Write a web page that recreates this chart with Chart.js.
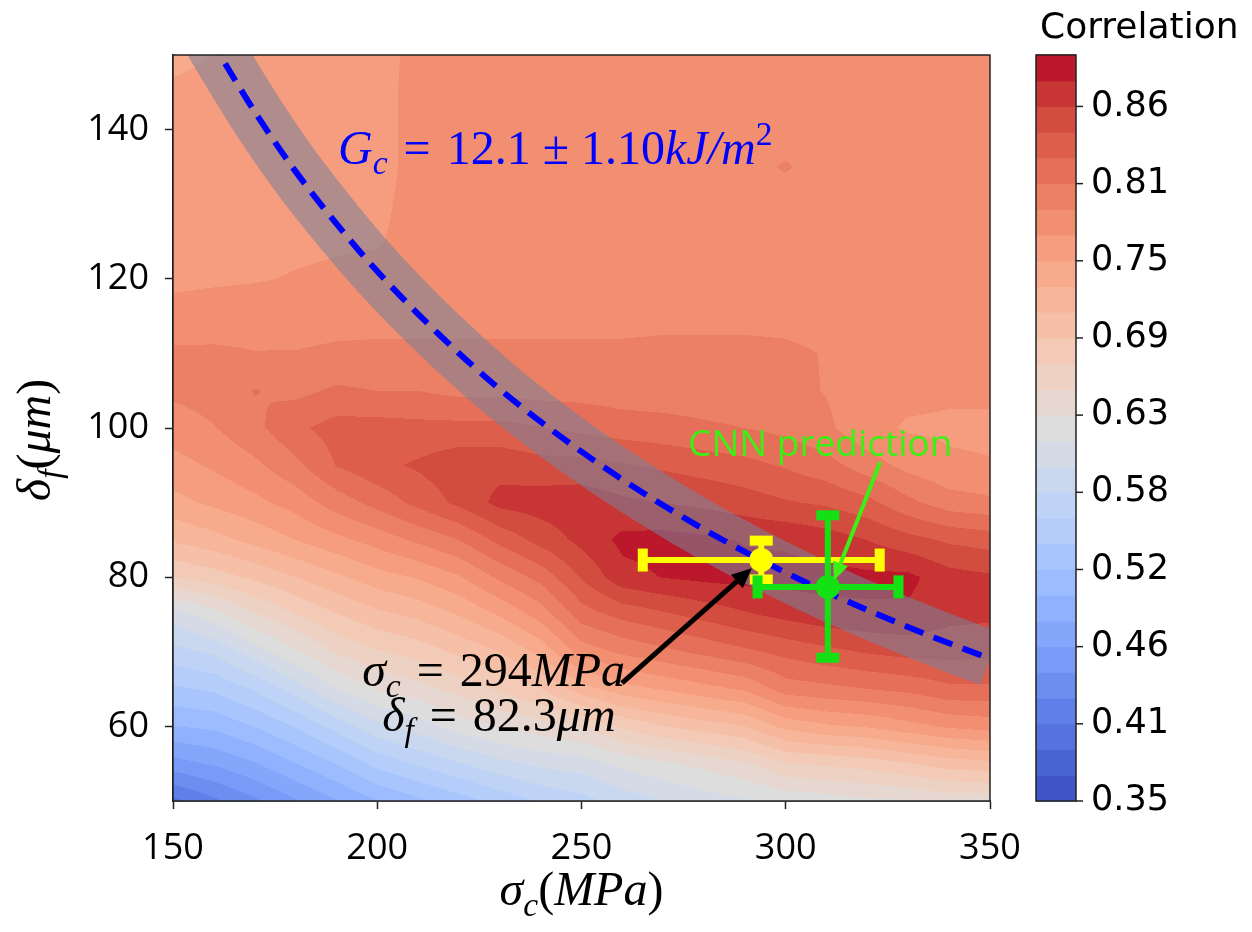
<!DOCTYPE html>
<html>
<head>
<meta charset="utf-8">
<script src="https://cdn.jsdelivr.net/npm/chart.js@4.4.1/dist/chart.umd.min.js"></script>
<style>
  html, body { margin: 0; padding: 0; background: #fff; }
  canvas { display: block; }
</style>
</head>
<body>
<canvas id="corrChart" width="1252" height="932"></canvas>
<script>
// grid of the correlation map
const sigmaGrid = [150,160,170,180,190,200,210,220,230,240,250,260,270,280,290,300,310,320,330,340,350];
const deltaGrid = [50,55,60,65,70,75,80,85,90,95,100,105,110,115,120,125,130,135,140,145,150];
// one column per sigma, values for delta 50 -> 150
const corrBySigma = [
  [0.400,0.455,0.500,0.535,0.570,0.605,0.672,0.712,0.742,0.760,0.776,0.790,0.790,0.772,0.764,0.762,0.762,0.760,0.758,0.752,0.742],
  [0.420,0.465,0.505,0.542,0.580,0.625,0.682,0.722,0.752,0.770,0.785,0.795,0.790,0.774,0.765,0.762,0.762,0.762,0.760,0.756,0.748],
  [0.440,0.480,0.520,0.560,0.605,0.650,0.695,0.735,0.762,0.782,0.800,0.806,0.787,0.775,0.766,0.762,0.762,0.762,0.762,0.760,0.755],
  [0.460,0.500,0.540,0.585,0.630,0.672,0.710,0.748,0.775,0.800,0.820,0.800,0.787,0.776,0.768,0.764,0.762,0.762,0.762,0.762,0.760],
  [0.480,0.520,0.565,0.615,0.655,0.690,0.725,0.762,0.795,0.825,0.832,0.808,0.790,0.778,0.770,0.765,0.762,0.762,0.762,0.762,0.762],
  [0.500,0.545,0.590,0.635,0.670,0.705,0.740,0.775,0.812,0.838,0.832,0.805,0.790,0.780,0.772,0.766,0.764,0.762,0.762,0.762,0.762],
  [0.515,0.560,0.605,0.645,0.680,0.715,0.750,0.790,0.830,0.846,0.830,0.805,0.790,0.780,0.775,0.772,0.772,0.772,0.772,0.772,0.771],
  [0.530,0.575,0.624,0.660,0.695,0.730,0.765,0.805,0.848,0.856,0.830,0.800,0.790,0.780,0.776,0.775,0.774,0.774,0.774,0.774,0.774],
  [0.545,0.590,0.635,0.675,0.710,0.750,0.790,0.830,0.868,0.856,0.830,0.800,0.790,0.780,0.777,0.776,0.776,0.775,0.775,0.775,0.775],
  [0.560,0.600,0.645,0.690,0.735,0.775,0.812,0.850,0.872,0.850,0.825,0.798,0.790,0.780,0.777,0.776,0.776,0.776,0.776,0.776,0.776],
  [0.570,0.605,0.655,0.720,0.775,0.815,0.845,0.868,0.874,0.850,0.820,0.798,0.790,0.780,0.777,0.776,0.776,0.776,0.776,0.776,0.776],
  [0.585,0.620,0.675,0.740,0.790,0.830,0.875,0.886,0.866,0.845,0.815,0.795,0.790,0.780,0.777,0.776,0.776,0.776,0.776,0.776,0.776],
  [0.595,0.630,0.690,0.750,0.800,0.840,0.882,0.888,0.862,0.840,0.812,0.795,0.792,0.780,0.777,0.776,0.776,0.776,0.776,0.776,0.776],
  [0.605,0.640,0.700,0.760,0.810,0.850,0.886,0.885,0.858,0.835,0.808,0.795,0.792,0.780,0.777,0.776,0.776,0.776,0.776,0.776,0.776],
  [0.612,0.650,0.710,0.770,0.820,0.860,0.888,0.880,0.852,0.830,0.805,0.795,0.792,0.780,0.777,0.776,0.776,0.780,0.776,0.776,0.776],
  [0.620,0.670,0.735,0.795,0.830,0.868,0.888,0.878,0.845,0.822,0.800,0.792,0.790,0.780,0.777,0.776,0.776,0.788,0.776,0.776,0.776],
  [0.625,0.675,0.745,0.800,0.838,0.875,0.888,0.872,0.840,0.812,0.790,0.785,0.785,0.778,0.776,0.776,0.776,0.776,0.776,0.776,0.776],
  [0.630,0.680,0.750,0.805,0.845,0.878,0.886,0.862,0.830,0.795,0.772,0.775,0.780,0.777,0.776,0.776,0.776,0.776,0.776,0.776,0.776],
  [0.632,0.690,0.760,0.810,0.850,0.878,0.886,0.850,0.810,0.780,0.765,0.772,0.778,0.777,0.776,0.776,0.776,0.776,0.776,0.776,0.776],
  [0.640,0.700,0.770,0.820,0.850,0.868,0.870,0.840,0.795,0.770,0.764,0.770,0.775,0.776,0.776,0.776,0.776,0.776,0.776,0.776,0.776],
  [0.640,0.705,0.775,0.820,0.848,0.866,0.865,0.835,0.790,0.768,0.764,0.770,0.775,0.776,0.776,0.776,0.776,0.776,0.776,0.776,0.776]
];

// contour levels and colorbar
const levelMin = 0.3484;
const levelStep = 0.01903;
const levelCount = 29;
const cbarTickLevels = [0, 3, 6, 9, 12, 15, 18, 21, 24, 27];
const cbarTickLabels = ['0.35','0.41','0.46','0.52','0.58','0.63','0.69','0.75','0.81','0.86'];

const xTicks = [150, 200, 250, 300, 350];
const yTicks = [60, 80, 100, 120, 140];

// G_c curve as drawn (sigma, delta)
const gcSigma = [155, 161.5, 170, 180, 190, 200, 215, 230, 245, 260, 275, 290, 305, 320, 335, 350, 360];
const gcDelta = [156, 150, 142.4, 134.4, 127.4, 121, 112.6, 105.2, 98.8, 93.1, 88, 83.4, 79.3, 75.6, 72.2, 69.1, 67.2];

// optimum from the map (yellow) and CNN prediction (green)
const expPoint = [294, 82.3];
const expSigmaErr = [265, 323];
const expDeltaErr = [79.7, 84.9];
const cnnPoint = [310.3, 78.7];
const cnnSigmaErr = [293.1, 327.6];
const cnnDeltaErr = [69.2, 88.3];

const coolwarm = [[59,76,192],[68,90,204],[77,104,215],[87,117,225],[98,130,234],[108,142,241],[119,154,247],[130,165,251],[141,176,254],[152,185,255],[163,194,255],[174,201,253],[184,208,249],[194,213,244],[204,217,238],[213,219,230],[221,221,221],[229,216,209],[236,211,197],[241,204,185],[245,196,173],[247,187,160],[247,177,148],[247,166,135],[244,154,123],[241,141,111],[236,127,99],[229,112,88],[222,96,77],[213,80,66],[203,62,56],[192,40,47],[180,4,38]];

function cmap(t) {
  const f = Math.max(0, Math.min(1, t)) * 32;
  const i = Math.min(31, Math.floor(f));
  const u = f - i;
  return coolwarm[i].map((c, k) => Math.round(c + (coolwarm[i + 1][k] - c) * u));
}
const bandColors = [];
for (let k = 0; k < levelCount; k++) bandColors.push(cmap((k + 0.5) / levelCount));

function fieldValue(s, d) {
  const ns = sigmaGrid.length, nd = deltaGrid.length;
  let fi = (s - sigmaGrid[0]) / (sigmaGrid[1] - sigmaGrid[0]);
  let fj = (d - deltaGrid[0]) / (deltaGrid[1] - deltaGrid[0]);
  fi = Math.max(0, Math.min(ns - 1, fi));
  fj = Math.max(0, Math.min(nd - 1, fj));
  const i0 = Math.min(ns - 2, Math.floor(fi)), j0 = Math.min(nd - 2, Math.floor(fj));
  const tx = fi - i0, ty = fj - j0;
  const c = corrBySigma;
  return (1 - tx) * (1 - ty) * c[i0][j0] + tx * (1 - ty) * c[i0 + 1][j0] +
         (1 - tx) * ty * c[i0][j0 + 1] + tx * ty * c[i0 + 1][j0 + 1];
}

const fieldPlugin = {
  id: 'field',
  beforeDatasetsDraw(chart) {
    const { ctx, chartArea: a, scales: { x, y } } = chart;
    const w = Math.round(a.right - a.left), h = Math.round(a.bottom - a.top);
    const off = document.createElement('canvas');
    off.width = w; off.height = h;
    const octx = off.getContext('2d');
    const img = octx.createImageData(w, h);
    for (let j = 0; j < h; j++) {
      const d = y.getValueForPixel(a.top + j + 0.5);
      for (let i = 0; i < w; i++) {
        const s = x.getValueForPixel(a.left + i + 0.5);
        const v = fieldValue(s, d);
        let k = Math.floor((v - levelMin) / levelStep);
        k = Math.max(0, Math.min(levelCount - 1, k));
        const col = bandColors[k];
        const p = (j * w + i) * 4;
        img.data[p] = col[0]; img.data[p + 1] = col[1]; img.data[p + 2] = col[2]; img.data[p + 3] = 255;
      }
    }
    octx.putImageData(img, 0, 0);
    ctx.drawImage(off, a.left, a.top);
  }
};

const MATH = '"Liberation Serif", "DejaVu Serif", serif';

function mathWidth(ctx, runs, size) {
  let wsum = 0;
  for (const r of runs) {
    if (typeof r === 'number') { wsum += r; continue; }
    const st = r[1];
    const small = st.includes('sub') || st.includes('sup');
    ctx.font = (st.startsWith('i') ? 'italic ' : '') + (small ? size * 0.7 : size) + 'px ' + MATH;
    wsum += ctx.measureText(r[0]).width;
  }
  return wsum;
}

function drawMath(ctx, runs, x, y, size, color) {
  ctx.save();
  ctx.fillStyle = color;
  ctx.textAlign = 'left';
  ctx.textBaseline = 'alphabetic';
  let cx = x;
  for (const r of runs) {
    if (typeof r === 'number') { cx += r; continue; }
    const [t, st] = r;
    const sub = st.includes('sub'), sup = st.includes('sup');
    const fs = (sub || sup) ? size * 0.7 : size;
    ctx.font = (st.startsWith('i') ? 'italic ' : '') + fs + 'px ' + MATH;
    const dy = sub ? size * 0.22 : (sup ? -size * 0.4 : 0);
    ctx.fillText(t, cx, y + dy);
    cx += ctx.measureText(t).width;
  }
  ctx.restore();
}

function arrow(ctx, x1, y1, x2, y2, color, lw, head, half) {
  const ang = Math.atan2(y2 - y1, x2 - x1);
  const bx = x2 - head * Math.cos(ang), by = y2 - head * Math.sin(ang);
  ctx.save();
  ctx.strokeStyle = color; ctx.fillStyle = color; ctx.lineWidth = lw;
  ctx.beginPath(); ctx.moveTo(x1, y1); ctx.lineTo(bx, by); ctx.stroke();
  ctx.beginPath();
  ctx.moveTo(x2, y2);
  ctx.lineTo(bx + half * Math.sin(ang), by - half * Math.cos(ang));
  ctx.lineTo(bx - half * Math.sin(ang), by + half * Math.cos(ang));
  ctx.closePath(); ctx.fill();
  ctx.restore();
}

const annotationPlugin = {
  id: 'annotations',
  afterDatasetsDraw(chart) {
    const { ctx, scales: { x, y } } = chart;
    const px = v => x.getPixelForValue(v), py = v => y.getPixelForValue(v);

    arrow(ctx, px(259.9), py(65.8), px(291.7), py(81.2), '#000', 5, 20, 9);
    arrow(ctx, px(323.1), py(95.4), px(311.8), py(79.6), 'rgb(60,240,20)', 4, 18, 8);

    drawMath(ctx, [['G','i'],['c','isub'],16,['=','r'],16,['12.1','r'],12,['±','r'],12,['1.10','r'],['kJ/m','i'],['2','rsup']],
      px(190.4), py(135.4), 48, '#0000ff');
    drawMath(ctx, [['σ','i'],['c','isub'],16,['=','r'],16,['294','r'],['MPa','i']],
      px(196.3), py(65.4), 48, '#000');
    drawMath(ctx, [['δ','i'],['f','isub'],16,['=','r'],16,['82.3','r'],['μm','i']],
      px(201.2), py(59.4), 48, '#000');

    ctx.save();
    ctx.fillStyle = 'rgb(60,240,20)';
    ctx.font = '37px "Open Sans"';
    ctx.textBaseline = 'alphabetic';
    ctx.fillText('CNN prediction', px(276.1), py(96.3));
    ctx.restore();
  },
  afterDraw(chart) {
    const { ctx, chartArea: a } = chart;
    ctx.save();
    ctx.strokeStyle = '#222';
    ctx.lineWidth = 1.5;
    ctx.strokeRect(a.left, a.top, a.right - a.left, a.bottom - a.top);
    ctx.restore();

    // axis titles
    const xt = [['σ','i'],['c','isub'],['(','r'],['MPa','i'],[')','r']];
    drawMath(ctx, xt, (a.left + a.right) / 2 - mathWidth(ctx, xt, 48) / 2, 905, 48, '#000');
    const yt = [['δ','i'],['f','isub'],['(','r'],['μm','i'],[')','r']];
    ctx.save();
    ctx.translate(50, 440);
    ctx.rotate(-Math.PI / 2);
    drawMath(ctx, yt, -mathWidth(ctx, yt, 48) / 2, 0, 48, '#000');
    ctx.restore();

    // colorbar
    const cx0 = 1036, cx1 = 1076, top = a.top, bot = a.bottom;
    const bh = (bot - top) / levelCount;
    ctx.save();
    for (let k = 0; k < levelCount; k++) {
      const c = bandColors[k];
      ctx.fillStyle = `rgb(${c[0]},${c[1]},${c[2]})`;
      ctx.fillRect(cx0, bot - (k + 1) * bh - 0.5, cx1 - cx0, bh + 1);
    }
    ctx.strokeStyle = '#222'; ctx.lineWidth = 1.5;
    ctx.strokeRect(cx0, top, cx1 - cx0, bot - top);
    ctx.fillStyle = '#000';
    ctx.font = '35px "DejaVu Sans"';
    ctx.textBaseline = 'middle';
    ctx.textAlign = 'left';
    cbarTickLevels.forEach((lv, i) => {
      const ty = bot - lv * bh;
      ctx.beginPath(); ctx.moveTo(cx1, ty); ctx.lineTo(cx1 + 7, ty); ctx.stroke();
      ctx.fillText(cbarTickLabels[i], cx1 + 15, ty);
    });
    ctx.font = '36px "DejaVu Sans"';
    ctx.textBaseline = 'alphabetic';
    ctx.fillText('Correlation', 1040, 38);
    ctx.restore();
  }
};

const pts = (xs, ys) => xs.map((v, i) => ({ x: v, y: ys[i] }));
const YELLOW = '#ffff00';
const GREEN = 'rgb(20,225,20)';

function errorSets(center, sErr, dErr, color, baseOrder) {
  return [
    { data: [{ x: sErr[0], y: center[1] }, { x: sErr[1], y: center[1] }], showLine: true,
      borderColor: color, borderWidth: 6, pointRadius: 0, order: baseOrder + 2 },
    { data: [{ x: center[0], y: dErr[0] }, { x: center[0], y: dErr[1] }], showLine: true,
      borderColor: color, borderWidth: 6, pointRadius: 0, order: baseOrder + 2 },
    { data: [{ x: sErr[0], y: center[1] }, { x: sErr[1], y: center[1] }], showLine: false,
      pointStyle: 'line', pointRotation: 90, pointRadius: 11.5, pointBorderWidth: 10,
      pointBorderColor: color, order: baseOrder + 1 },
    { data: [{ x: center[0], y: dErr[0] }, { x: center[0], y: dErr[1] }], showLine: false,
      pointStyle: 'line', pointRotation: 0, pointRadius: 11.5, pointBorderWidth: 10,
      pointBorderColor: color, order: baseOrder + 1 },
    { data: [{ x: center[0], y: center[1] }], showLine: false, pointRadius: 12,
      pointBackgroundColor: color, pointBorderWidth: 0, order: baseOrder }
  ];
}

const tickFont = { family: 'Open Sans', size: 36 };

new Chart(document.getElementById('corrChart'), {
  type: 'scatter',
  data: {
    datasets: [
      { data: pts(gcSigma, gcDelta), showLine: true, borderColor: 'rgba(125,128,150,0.58)',
        borderWidth: 56, pointRadius: 0, cubicInterpolationMode: 'monotone', clip: 0, order: 20 },
      { data: pts(gcSigma, gcDelta), showLine: true, borderColor: '#0000ff', borderWidth: 6,
        borderDash: [20, 11], pointRadius: 0, cubicInterpolationMode: 'monotone', clip: 0, order: 19 },
      ...errorSets(expPoint, expSigmaErr, expDeltaErr, YELLOW, 14),
      ...errorSets(cnnPoint, cnnSigmaErr, cnnDeltaErr, GREEN, 10)
    ]
  },
  options: {
    responsive: false,
    animation: false,
    devicePixelRatio: 1,
    events: [],
    layout: { padding: { top: 55, right: 262, left: 0, bottom: 0 } },
    plugins: { legend: { display: false }, tooltip: { enabled: false } },
    scales: {
      x: {
        type: 'linear', min: 150, max: 350,
        afterBuildTicks: s => { s.ticks = xTicks.map(v => ({ value: v })); },
        afterFit: s => { s.height = 131; },
        ticks: { font: tickFont, color: '#000', padding: 18, maxRotation: 0, autoSkip: false },
        grid: { drawOnChartArea: false, drawTicks: true, tickLength: 8, tickColor: '#222', tickWidth: 1.5 },
        border: { display: true, color: '#222', width: 1.5 }
      },
      y: {
        type: 'linear', min: 50, max: 150,
        afterBuildTicks: s => { s.ticks = yTicks.map(v => ({ value: v })); },
        afterFit: s => { s.width = 173; },
        ticks: { font: tickFont, color: '#000', padding: 16, autoSkip: false },
        grid: { drawOnChartArea: false, drawTicks: true, tickLength: 8, tickColor: '#222', tickWidth: 1.5 },
        border: { display: true, color: '#222', width: 1.5 }
      }
    }
  },
  plugins: [fieldPlugin, annotationPlugin]
});
</script>
</body>
</html>
